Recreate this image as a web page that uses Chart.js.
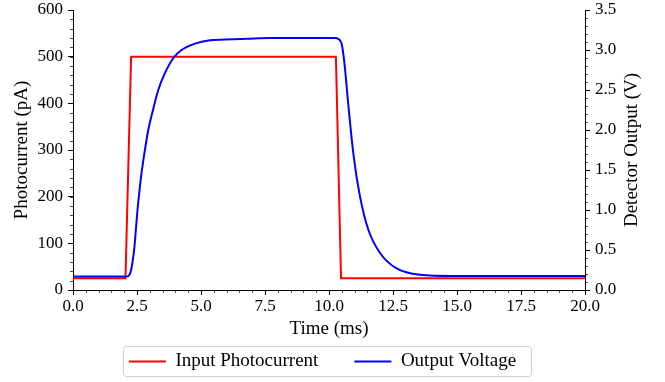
<!DOCTYPE html>
<html>
<head>
<meta charset="utf-8">
<script src="https://cdn.jsdelivr.net/npm/chart.js@4.4.0/dist/chart.umd.min.js"></script>
<style>
  html, body { margin: 0; padding: 0; background: #ffffff; }
  #wrap { width: 665px; height: 382px; position: relative; }
</style>
</head>
<body>
<div id="wrap"><canvas id="c" width="665" height="382"></canvas></div>
<script>
// ---- Data ----
const timeInput = [0, 2.05, 2.27, 10.27, 10.47, 20];
const photocurrent = [25, 25, 500, 500, 25, 25];

const timeOutput = [0, 2.1, 2.16, 2.22, 2.27, 2.33, 2.4, 2.46, 2.52, 2.59, 2.66, 2.79, 2.94, 3.14, 3.33, 3.59, 3.92, 4.24, 4.77, 5.29, 5.94, 6.8, 7.7, 8.9, 10.25, 10.36, 10.43, 10.49, 10.56, 10.63, 10.75, 10.95, 11.21, 11.54, 12.0, 12.64, 13.55, 14.85, 20];
const voltage    = [0.17, 0.17, 0.175, 0.2, 0.25, 0.36, 0.54, 0.77, 1.0, 1.22, 1.42, 1.71, 2.0, 2.27, 2.5, 2.71, 2.9, 3.0, 3.08, 3.12, 3.13, 3.14, 3.15, 3.15, 3.15, 3.14, 3.12, 3.08, 2.95, 2.75, 2.33, 1.71, 1.17, 0.75, 0.46, 0.27, 0.19, 0.175, 0.175];

const seriesNames = ['Input Photocurrent', 'Output Voltage'];
const xTitle = 'Time (ms)';
const yTitle = 'Photocurrent (pA)';
const y1Title = 'Detector Output (V)';

const FONT = "'Liberation Serif', 'Times New Roman', serif";
const TICK_PX = 17;
const TITLE_PX = 19;

const toXY = (xs, ys) => xs.map((x, i) => ({ x: x, y: ys[i] }));

// minor ticks + right-axis title
const decor = {
  id: 'decor',
  afterDraw(chart) {
    const ctx = chart.ctx;
    const area = chart.chartArea;
    ctx.save();
    ctx.strokeStyle = '#000';
    ctx.lineWidth = 0.8;
    const minor = [
      { id: 'x', step: 0.5 },
      { id: 'y', step: 20 },
      { id: 'y1', step: 0.1 }
    ];
    minor.forEach(m => {
      const s = chart.scales[m.id];
      const n = Math.round((s.max - s.min) / m.step);
      for (let i = 0; i <= n; i++) {
        const v = s.min + i * m.step;
        const p = Math.round(s.getPixelForValue(v)) + 0.5;
        ctx.beginPath();
        if (m.id === 'x') {
          ctx.moveTo(p, area.bottom); ctx.lineTo(p, area.bottom + 2.8);
        } else if (m.id === 'y') {
          ctx.moveTo(area.left, p); ctx.lineTo(area.left - 2.8, p);
        } else {
          ctx.moveTo(area.right, p); ctx.lineTo(area.right + 2.8, p);
        }
        ctx.stroke();
      }
    });
    const s1 = chart.scales.y1;
    ctx.fillStyle = '#000';
    ctx.font = TITLE_PX + 'px ' + FONT;
    ctx.textAlign = 'center';
    ctx.textBaseline = 'middle';
    ctx.translate(632, (area.top + area.bottom) / 2);
    ctx.rotate(-Math.PI / 2);
    ctx.fillText(s1.options.title.text, 0, 0);
    ctx.restore();
  }
};

const legendFrame = {
  id: 'legendFrame',
  afterDraw(chart) {
    const lg = chart.legend;
    if (!lg || !lg.legendHitBoxes || !lg.legendHitBoxes.length) return;
    const hb = lg.legendHitBoxes;
    const last = hb[hb.length - 1];
    const l = Math.round(hb[0].left - 6);
    const r = Math.round(last.left + last.width + 15);
    const t = Math.round(hb[0].top - 6.5);
    const b = Math.round(hb[0].top + hb[0].height + 5);
    const ctx = chart.ctx;
    ctx.save();
    ctx.strokeStyle = '#cccccc';
    ctx.lineWidth = 1;
    ctx.beginPath();
    if (ctx.roundRect) ctx.roundRect(l + 0.5, t + 0.5, r - l, b - t, 3);
    else ctx.rect(l + 0.5, t + 0.5, r - l, b - t);
    ctx.stroke();
    ctx.restore();
  }
};

const legendHeight = {
  id: 'legendHeight',
  afterInit(chart) {
    const lg = chart.legend;
    if (!lg) return;
    const orig = lg.fit;
    lg.fit = function () { orig.call(this); this.height = 66; };
  }
};

const chart = new Chart(document.getElementById('c'), {
  type: 'line',
  data: {
    datasets: [
      {
        label: seriesNames[0],
        data: toXY(timeInput, photocurrent),
        yAxisID: 'y',
        borderColor: '#ff0000',
        backgroundColor: '#ff0000',
        borderWidth: 2,
        pointRadius: 0,
        tension: 0,
        fill: false,
        order: 1
      },
      {
        label: seriesNames[1],
        data: toXY(timeOutput, voltage),
        yAxisID: 'y1',
        borderColor: '#0000ff',
        backgroundColor: '#0000ff',
        borderWidth: 2,
        pointRadius: 0,
        cubicInterpolationMode: 'monotone',
        fill: false,
        order: 0
      }
    ]
  },
  options: {
    responsive: false,
    animation: false,
    devicePixelRatio: 1,
    layout: { padding: { top: 0, left: 0, right: 20, bottom: 0 } },
    font: { family: FONT, size: TICK_PX },
    color: '#000',
    plugins: {
      tooltip: { enabled: false },
      legend: {
        position: 'bottom',
        align: 'center',
        labels: {
          color: '#000',
          font: { family: FONT, size: TITLE_PX },
          usePointStyle: true,
          pointStyle: 'line',
          pointStyleWidth: 37,
          padding: 36,
          sort: (a, b) => a.datasetIndex - b.datasetIndex
        }
      }
    },
    scales: {
      x: {
        type: 'linear',
        min: 0, max: 20,
        afterFit: s => { s.height = 26; },
        ticks: {
          stepSize: 2.5,
          color: '#000',
          font: { family: FONT, size: TICK_PX },
          padding: 1,
          maxRotation: 0,
          callback: v => Number(v).toFixed(1)
        },
        grid: { display: true, drawOnChartArea: false, drawTicks: true, tickLength: 5, tickColor: '#000', tickWidth: 1 },
        border: { display: true, color: '#000', width: 1 },
        title: { display: true, text: xTitle, color: '#000', font: { family: FONT, size: TITLE_PX }, padding: { top: 0, bottom: -24 } }
      },
      y: {
        type: 'linear',
        position: 'left',
        min: 0, max: 600,
        afterFit: s => { s.width = 73; s.paddingTop = 10; },
        ticks: {
          stepSize: 100,
          color: '#000',
          font: { family: FONT, size: TICK_PX },
          padding: 5,
          callback: v => String(v)
        },
        grid: { display: true, drawOnChartArea: false, drawTicks: true, tickLength: 5, tickColor: '#000', tickWidth: 1 },
        border: { display: true, color: '#000', width: 1 },
        title: { display: true, text: yTitle, color: '#000', font: { family: FONT, size: TITLE_PX }, padding: { top: 11, bottom: 0 } }
      },
      y1: {
        type: 'linear',
        position: 'right',
        min: 0, max: 3.5,
        afterFit: s => { s.width = 60; s.paddingTop = 10; },
        ticks: {
          stepSize: 0.5,
          color: '#000',
          font: { family: FONT, size: TICK_PX },
          padding: 5,
          callback: v => Number(v).toFixed(1)
        },
        grid: { display: true, drawOnChartArea: false, drawTicks: true, tickLength: 5, tickColor: '#000', tickWidth: 1 },
        border: { display: true, color: '#000', width: 1 },
        title: { display: false, text: y1Title }
      }
    }
  },
  plugins: [legendHeight, decor, legendFrame]
});
</script>
</body>
</html>
